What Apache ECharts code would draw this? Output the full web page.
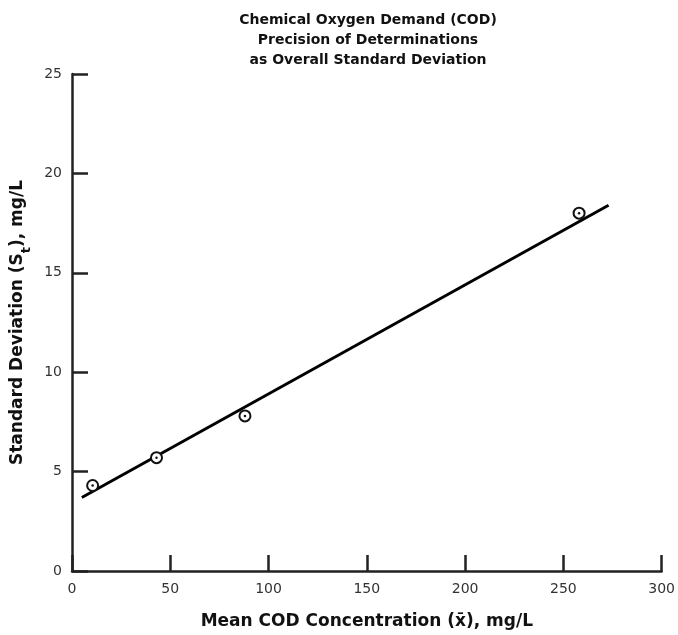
<!DOCTYPE html>
<html><head><meta charset="utf-8">
<script src="https://cdn.jsdelivr.net/npm/echarts@6/dist/echarts.min.js"></script>
<style>html,body{margin:0;padding:0;background:#fff;overflow:hidden}#c{width:678px;height:635px}</style>
</head><body><div id="c"></div>
<script>
var titleLines = ['Chemical Oxygen Demand (COD)', 'Precision of Determinations', 'as Overall Standard Deviation'];
var meanCOD = [10.5, 43, 88, 258];
var stdDev = [4.3, 5.7, 7.8, 18.0];
var fitX = [5, 273];
var fitY = [3.7, 18.4];
var xTicks = [0, 50, 100, 150, 200, 250, 300];
var yTicks = [0, 5, 10, 15, 20, 25];

var pts = meanCOD.map(function (x, i) { return [x, stdDev[i]]; });
var fit = fitX.map(function (x, i) { return [x, fitY[i]]; });
var FONT = 'DejaVu Sans';
var chart = echarts.init(document.getElementById('c'));
chart.setOption({
  animation: false,
  title: {
    text: titleLines.join('\n'),
    left: 363, top: 5, textAlign: 'center',
    textStyle: { fontFamily: FONT, fontWeight: 'bold', fontSize: 14, lineHeight: 20, color: '#111' }
  },
  grid: { left: 72, right: 12, top: 74, bottom: 62, containLabel: false },
  xAxis: {
    type: 'value', min: 0, max: 300, interval: 50,
    name: 'Mean COD Concentration (x\u0304), mg/L',
    nameLocation: 'middle', nameGap: 42,
    nameTextStyle: { fontFamily: FONT, fontWeight: 'bold', fontSize: 17, color: '#111' },
    axisLine: { lineStyle: { color: '#222', width: 2.5 } },
    axisTick: { inside: true, length: 16, lineStyle: { color: '#222', width: 2.5 } },
    axisLabel: { fontFamily: FONT, fontSize: 14, color: '#333', margin: 11,
      formatter: function (v) { return xTicks.indexOf(v) >= 0 ? String(v) : ''; } },
    splitLine: { show: false }
  },
  yAxis: {
    type: 'value', min: 0, max: 25, interval: 5,
    name: '{a|Standard Deviation (S}{s|t}{a|), mg/L}',
    nameLocation: 'middle', nameGap: 43, nameRotate: 90,
    nameTextStyle: { fontFamily: FONT, fontWeight: 'bold', fontSize: 17, color: '#111',
      rich: {
        a: { fontFamily: FONT, fontWeight: 'bold', fontSize: 17, color: '#111' },
        s: { fontFamily: FONT, fontWeight: 'bold', fontSize: 13, color: '#111', verticalAlign: 'bottom', padding: [0, 0, -7, 0] }
      } },
    axisLine: { lineStyle: { color: '#222', width: 2.5 } },
    axisTick: { inside: true, length: 16, lineStyle: { color: '#222', width: 2.5 } },
    axisLabel: { fontFamily: FONT, fontSize: 14, color: '#333', margin: 10,
      formatter: function (v) { return yTicks.indexOf(v) >= 0 ? String(v) : ''; } },
    splitLine: { show: false }
  },
  series: [
    { type: 'line', data: fit, symbol: 'none', lineStyle: { color: '#000', width: 3 }, z: 2 },
    { type: 'scatter', data: pts, symbol: 'circle', symbolSize: 11,
      itemStyle: { color: '#fff', borderColor: '#111', borderWidth: 2, opacity: 1 }, z: 3 },
    { type: 'scatter', data: pts, symbol: 'circle', symbolSize: 2.5,
      itemStyle: { color: '#111', opacity: 1 }, z: 4 }
  ]
});
</script></body></html>
